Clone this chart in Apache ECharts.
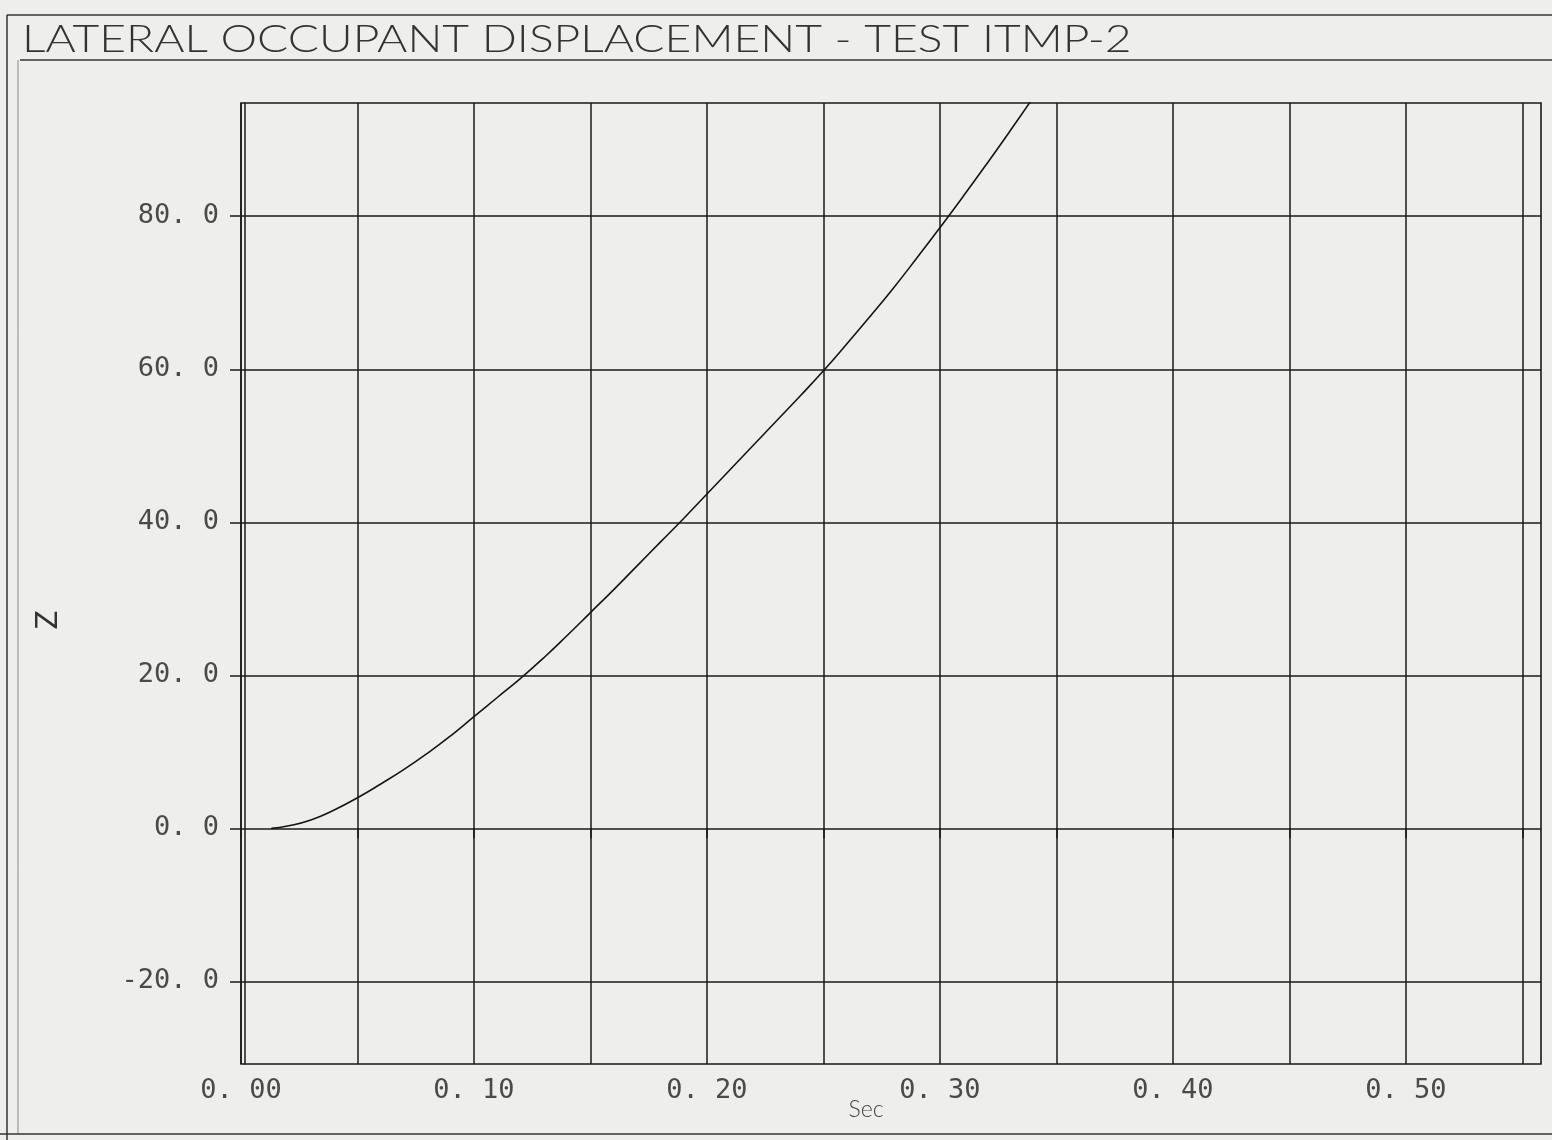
<!DOCTYPE html>
<html>
<head>
<meta charset="utf-8">
<title>Lateral occupant displacement</title>
<script src="https://cdn.jsdelivr.net/npm/echarts@6/dist/echarts.min.js"></script>
<style>
  html, body { margin: 0; padding: 0; background: #eeeeec; }
  #chart { width: 1552px; height: 1140px; }
</style>
</head>
<body>
<div id="chart"></div>
<script>
// Plot text
const chartTitle = 'LATERAL OCCUPANT DISPLACEMENT - TEST ITMP-2';
const xAxisTitle = 'Sec';
const yAxisTitle = 'Z';

// Measured trace: time (s) and lateral displacement
const timeSec = [0.013, 0.02, 0.03, 0.04, 0.05, 0.06, 0.07, 0.08, 0.09, 0.10,
                 0.11, 0.12, 0.13, 0.14, 0.15, 0.16, 0.17, 0.18, 0.19, 0.20,
                 0.21, 0.22, 0.23, 0.24, 0.25, 0.26, 0.27, 0.28, 0.29, 0.30,
                 0.31, 0.32, 0.33, 0.34];
const displacement = [0.0, 0.3, 1.1, 2.4, 4.0, 5.8, 7.7, 9.8, 12.1, 14.6,
                      17.1, 19.6, 22.3, 25.2, 28.2, 31.2, 34.3, 37.4, 40.5, 43.7,
                      46.9, 50.1, 53.3, 56.5, 59.8, 63.3, 66.9, 70.6, 74.5, 78.5,
                      82.6, 86.8, 91.1, 95.5];

// Axis ticks, labels and ranges
const xGridValues = [0, 0.05, 0.10, 0.15, 0.20, 0.25, 0.30, 0.35, 0.40, 0.45, 0.50, 0.55];
const xLabelValues = [0, 0.10, 0.20, 0.30, 0.40, 0.50];
const yGridValues = [-20, 0, 20, 40, 60, 80];
const xRange = [0, 0.558];
const yRange = [-30.8, 94.8];

const ink = '#1a1a1a';
const textInk = '#4a4a4a';
const titleFont = 'Lato, "DejaVu Sans", sans-serif';
const tickFont = '"DejaVu Sans Mono", "Liberation Mono", monospace';

// plotter style numbers: "0. 10", "80. 0"
const plotterNum = (v, digits) => v.toFixed(digits).replace('.', '. ');

const chart = echarts.init(document.getElementById('chart'), null, { renderer: 'canvas' });

const tickLabelStyle = {
  color: textInk, fontFamily: tickFont, fontSize: 27, fontWeight: 'normal'
};

const option = {
  backgroundColor: '#eeeeec',
  animation: false,
  grid: {
    left: 241, top: 103, right: 11, bottom: 76,
    show: true, borderColor: ink, borderWidth: 1.6, backgroundColor: 'transparent'
  },
  xAxis: {
    type: 'value',
    min: xRange[0], max: xRange[1],
    axisLine: { show: false },
    axisTick: { show: true, length: 10, inside: false, customValues: xGridValues,
                lineStyle: { color: ink, width: 1.5 } },
    axisLabel: Object.assign({
      customValues: xLabelValues, margin: 13,
      formatter: v => plotterNum(v, 2)
    }, tickLabelStyle),
    splitLine: { show: true, lineStyle: { color: ink, width: 1.5 } }
  },
  yAxis: [{
    type: 'value',
    min: yRange[0], max: yRange[1],
    axisLine: { show: false },
    axisTick: { show: true, length: 11, inside: false, customValues: yGridValues,
                lineStyle: { color: ink, width: 1.5 } },
    axisLabel: Object.assign({
      customValues: yGridValues, margin: 22,
      formatter: v => plotterNum(v, 1)
    }, tickLabelStyle),
    splitLine: { show: true, lineStyle: { color: ink, width: 1.5 } }
  }, {
    // inner rule of the doubled left border
    type: 'value', position: 'left', offset: -4,
    min: yRange[0], max: yRange[1],
    axisLine: { show: true, lineStyle: { color: ink, width: 1.5 } },
    axisTick: { show: false }, axisLabel: { show: false }, splitLine: { show: false }
  }],
  series: [{
    type: 'line',
    xAxisIndex: 0, yAxisIndex: 0,
    data: timeSec.map((t, i) => [t, displacement[i]]),
    showSymbol: false,
    smooth: true,
    clip: true,
    lineStyle: { color: '#151515', width: 1.6 }
  }],
  graphic: [
    // page frame and title rule
    { type: 'line', shape: { x1: 7, y1: 15, x2: 1552, y2: 15 }, style: { stroke: '#333', lineWidth: 1.5 } },
    { type: 'line', shape: { x1: 7, y1: 15, x2: 7, y2: 1140 }, style: { stroke: '#333', lineWidth: 1.5 } },
    { type: 'line', shape: { x1: 18, y1: 60, x2: 18, y2: 1134 }, style: { stroke: '#888', lineWidth: 1 } },
    { type: 'line', shape: { x1: 20, y1: 60, x2: 1552, y2: 60 }, style: { stroke: '#333', lineWidth: 1.5 } },
    { type: 'line', shape: { x1: 0, y1: 1134, x2: 1552, y2: 1134 }, style: { stroke: '#333', lineWidth: 1.5 } },
    {
      type: 'text', x: 22, y: 22, scaleX: 1.25,
      style: { text: chartTitle, fill: '#333', font: '300 37px ' + titleFont }
    },
    {
      type: 'text', x: 47, y: 620, rotation: Math.PI / 2,
      style: { text: yAxisTitle, fill: '#333', font: '400 31px ' + titleFont,
               align: 'center', verticalAlign: 'middle' }
    },
    {
      type: 'text', x: 866, y: 1110,
      style: { text: xAxisTitle, fill: '#444', font: '300 23px ' + titleFont,
               align: 'center', verticalAlign: 'middle' }
    }
  ]
};

chart.setOption(option);
</script>
</body>
</html>
